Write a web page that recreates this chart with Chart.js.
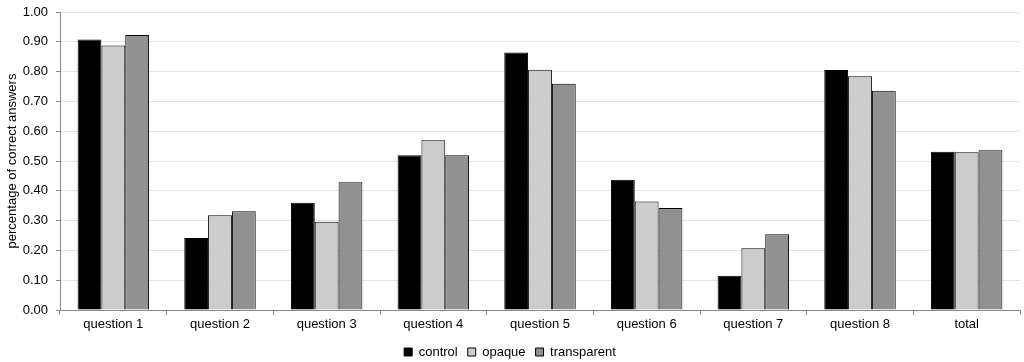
<!DOCTYPE html>
<html>
<head>
<meta charset="utf-8">
<script src="https://cdn.jsdelivr.net/npm/chart.js@4/dist/chart.umd.min.js"></script>
<style>
html,body{margin:0;padding:0;background:#fff;}
#wrap{width:1024px;height:362px;}
</style>
</head>
<body>
<div id="wrap"><canvas id="c" width="1024" height="362"></canvas></div>
<script>
const categories = ["question 1","question 2","question 3","question 4","question 5","question 6","question 7","question 8","total"];
const control = [0.908,0.242,0.360,0.519,0.864,0.437,0.115,0.805,0.531];
const opaque = [0.888,0.318,0.296,0.570,0.806,0.364,0.207,0.784,0.529];
const transparent = [0.923,0.331,0.429,0.519,0.759,0.342,0.254,0.736,0.536];
const yTicks = [0,0.1,0.2,0.3,0.4,0.5,0.6,0.7,0.8,0.9,1.0];

const font = {family:"'Liberation Sans', Arial, sans-serif", size:13};
Chart.defaults.font.family = font.family;
Chart.defaults.color = "#000";

new Chart(document.getElementById('c'), {
  type:'bar',
  data:{
    labels:categories,
    datasets:[
      {label:'control',data:control,backgroundColor:'#000000',borderColor:'#000000',borderWidth:1},
      {label:'opaque',data:opaque,backgroundColor:'#cccccc',borderColor:'#000000',borderWidth:1},
      {label:'transparent',data:transparent,backgroundColor:'#919191',borderColor:'#000000',borderWidth:1}
    ]
  },
  options:{
    responsive:false,
    animation:false,
    layout:{padding:{top:0,right:4,left:0,bottom:-6.5}},
    datasets:{bar:{categoryPercentage:0.67,barPercentage:1.0}},
    plugins:{
      legend:{
        position:'bottom',
        labels:{boxWidth:8,boxHeight:8,font:{size:13},padding:10,color:'#000'}
      },
      tooltip:{enabled:false}
    },
    scales:{
      x:{
        offset:true,
        grid:{offset:true,drawOnChartArea:false,drawTicks:true,tickLength:5,color:'#888'},
        border:{color:'#888'},
        ticks:{font:{size:13},color:'#000',padding:2,maxRotation:0},
        afterFit:(s)=>{s.height=25.5;}
      },
      y:{
        min:0,max:1,
        afterBuildTicks:(s)=>{s.ticks = yTicks.map(v=>({value:v}));},
        grid:{color:'#e3e3e3',tickLength:4,tickColor:'#888'},
        border:{color:'#888'},
        ticks:{font:{size:13},color:'#000',padding:8,callback:(v)=>Number(v).toFixed(2)},
        title:{display:true,text:'percentage of correct answers',font:{size:13},color:'#000',padding:{top:5,bottom:4}},
        afterFit:(s)=>{s.width=60;s.paddingTop=12;s.paddingBottom=0;}
      }
    }
  }
});
</script>
</body>
</html>
